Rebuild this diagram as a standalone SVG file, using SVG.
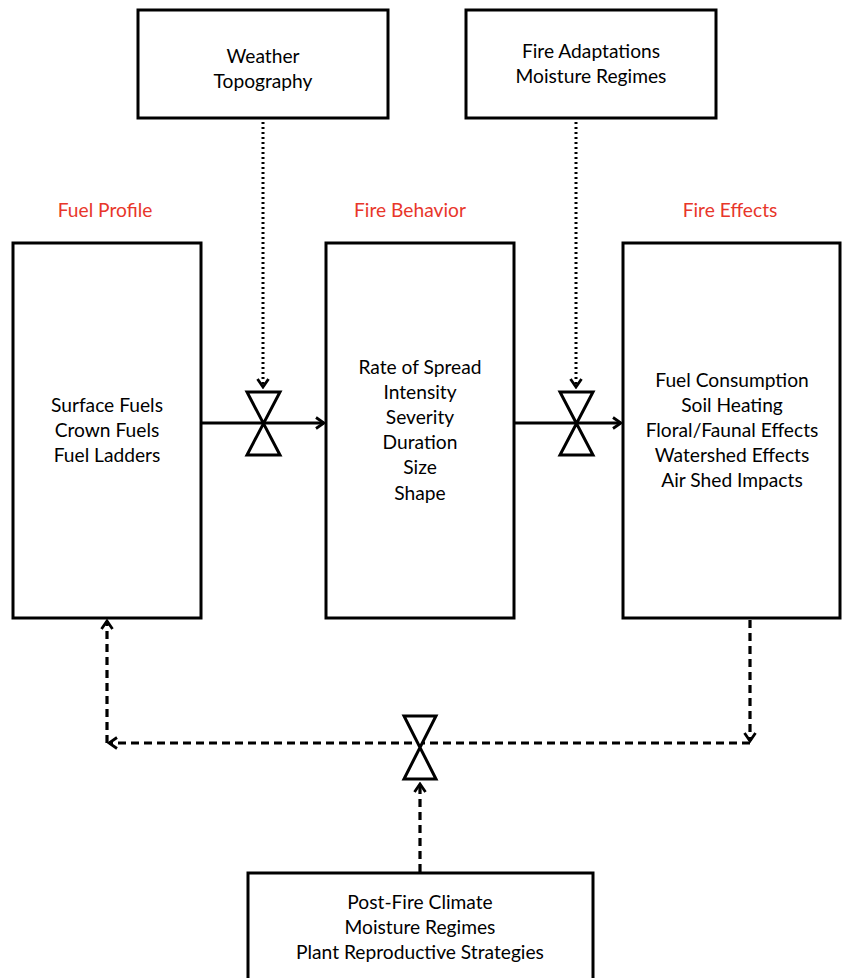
<svg xmlns="http://www.w3.org/2000/svg" width="842" height="978" viewBox="0 0 842 978">
<defs>
<marker id="arr" viewBox="0 0 14 14" refX="12" refY="7" markerWidth="14" markerHeight="14" markerUnits="userSpaceOnUse" orient="auto">
<path d="M4,1.5 L12,7 L4,12.5" fill="none" stroke="#000" stroke-width="2.8"/>
</marker>
</defs>
<style>
.box{fill:#fff;stroke:#000;stroke-width:3}
.t{font-family:Lato,"Open Sans","Liberation Sans",sans-serif;font-size:19.2px;fill:#000;text-anchor:middle}
.r{font-family:Lato,"Open Sans","Liberation Sans",sans-serif;font-size:19.2px;fill:#e8362a;text-anchor:middle}
.solid{stroke:#000;stroke-width:3;fill:none}
.dot{stroke:#000;stroke-width:3;fill:none;stroke-dasharray:2 3}
.dash{stroke:#000;stroke-width:3.2;fill:none;stroke-dasharray:8 5}
.valve{fill:#fff;stroke:#000;stroke-width:3;stroke-linejoin:miter}
</style>
<rect width="842" height="978" fill="#fff"/>
<g id="connectors">
<line class="dot" x1="263" y1="122" x2="263" y2="387" marker-end="url(#arr)"/>
<line class="dot" x1="576" y1="122" x2="576" y2="387" marker-end="url(#arr)"/>
<line class="solid" x1="202" y1="423" x2="324" y2="423" marker-end="url(#arr)"/>
<line class="solid" x1="515" y1="423" x2="621" y2="423" marker-end="url(#arr)"/>
<polyline class="dash" points="750,620 750,741" marker-end="url(#arr)"/>
<line class="dash" x1="750" y1="743" x2="109" y2="743" marker-end="url(#arr)"/>
<line class="dash" x1="107" y1="743" x2="107" y2="621" marker-end="url(#arr)"/>
<line class="dash" x1="420" y1="872" x2="420" y2="784" marker-end="url(#arr)"/>
</g>
<g id="valve1"><polygon class="valve" points="247,392 280,392 247,455 280,455"/></g>
<g id="valve2"><polygon class="valve" points="560,392 593,392 560,455 593,455"/></g>
<g id="valve3"><polygon class="valve" points="404,716 436,716 404,779 436,779"/></g>
<g id="weather">
<rect class="box" x="138" y="10" width="250" height="108"/>
<text class="t" x="263" y="63">Weather</text>
<text class="t" x="263" y="88">Topography</text>
</g>
<g id="adaptations">
<rect class="box" x="466" y="10" width="250" height="108"/>
<text class="t" x="591" y="58">Fire Adaptations</text>
<text class="t" x="591" y="83">Moisture Regimes</text>
</g>
<g id="fuel-profile">
<text class="r" x="105" y="217">Fuel Profile</text>
<rect class="box" x="13" y="243" width="188" height="375"/>
<text class="t" x="107" y="412">Surface Fuels</text>
<text class="t" x="107" y="437">Crown Fuels</text>
<text class="t" x="107" y="462">Fuel Ladders</text>
</g>
<g id="fire-behavior">
<text class="r" x="410" y="217">Fire Behavior</text>
<rect class="box" x="326" y="243" width="188" height="375"/>
<text class="t" x="420" y="374">Rate of Spread</text>
<text class="t" x="420" y="399">Intensity</text>
<text class="t" x="420" y="424">Severity</text>
<text class="t" x="420" y="449">Duration</text>
<text class="t" x="420" y="474">Size</text>
<text class="t" x="420" y="500">Shape</text>
</g>
<g id="fire-effects">
<text class="r" x="730" y="217">Fire Effects</text>
<rect class="box" x="623" y="243" width="217" height="375"/>
<text class="t" x="732" y="387">Fuel Consumption</text>
<text class="t" x="732" y="412">Soil Heating</text>
<text class="t" x="732" y="437">Floral/Faunal Effects</text>
<text class="t" x="732" y="462">Watershed Effects</text>
<text class="t" x="732" y="487">Air Shed Impacts</text>
</g>
<g id="post-fire">
<rect class="box" x="248" y="873" width="345" height="110"/>
<text class="t" x="420" y="909">Post-Fire Climate</text>
<text class="t" x="420" y="934">Moisture Regimes</text>
<text class="t" x="420" y="959">Plant Reproductive Strategies</text>
</g>
</svg>
